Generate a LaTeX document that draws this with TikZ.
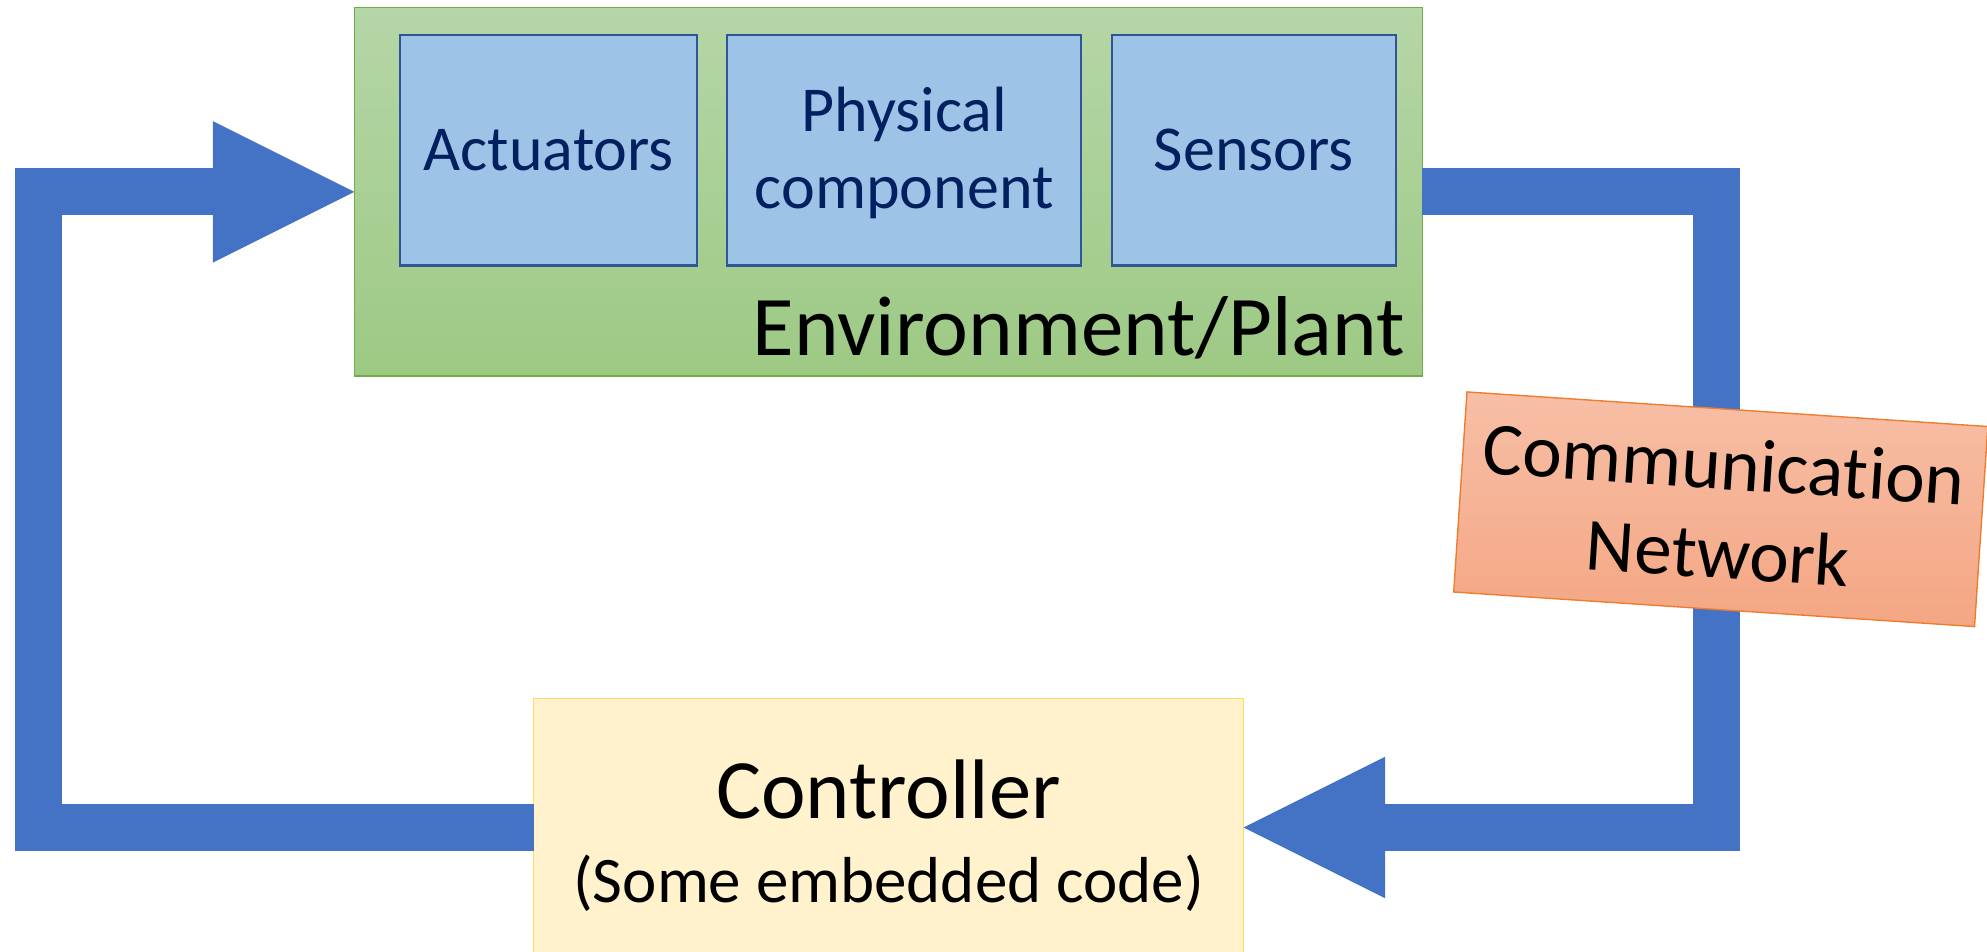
\documentclass[tikz,border=0pt]{standalone}
\usepackage{fontspec}
\setmainfont{Carlito}[Ligatures=NoCommon]
\usetikzlibrary{arrows.meta}

\definecolor{flowblue}{HTML}{4472C4}
\definecolor{plantTop}{HTML}{B5D6A7}
\definecolor{plantBot}{HTML}{9DC984}
\definecolor{plantLine}{HTML}{70AD47}
\definecolor{partFill}{HTML}{9DC3E6}
\definecolor{partLine}{HTML}{2F5597}
\definecolor{partText}{HTML}{002060}
\definecolor{ctrlFill}{HTML}{FFF2CC}
\definecolor{ctrlLine}{HTML}{FFD966}
\definecolor{netTop}{HTML}{F7BFA6}
\definecolor{netBot}{HTML}{F4A683}
\definecolor{netLine}{HTML}{ED7D31}

\begin{document}
\begin{tikzpicture}[x=1pt,y=-1pt,
  every node/.style={outer sep=0pt, inner sep=0pt},
  plantbox/.style={draw=plantLine, line width=1.3pt, top color=plantTop, bottom color=plantBot,
    minimum width=1068pt, minimum height=368.3pt},
  partbox/.style={draw=partLine, line width=2.2pt, fill=partFill, minimum height=230.5pt},
  ctrlbox/.style={draw=ctrlLine, line width=1pt, fill=ctrlFill, minimum width=710pt, minimum height=258.6pt},
  netbox/.style={draw=netLine, line width=1.4pt, top color=netTop, bottom color=netBot,
    minimum width=522pt, minimum height=200.5pt},
  parttext/.style={anchor=base, text=partText, font=\fontsize{64pt}{76pt}\selectfont},
  flow/.style={draw=flowblue, line width=47pt, line join=miter,
    -{Triangle[length=141.5pt,width=141.5pt,line width=0pt]}}
]
\useasboundingbox (0,0) rectangle (1987,952);

% plant with its three parts
\node[plantbox] (env) at (888.3,191.85) {};
\node[partbox, minimum width=297pt] (act) at (548.8,150.25) {};
\node[partbox, minimum width=353.7pt] (phys) at (904.2,150.25) {};
\node[partbox, minimum width=284.3pt] (sens) at (1253.85,150.25) {};
\node[parttext] (acttxt) at (548.8,170.5) {Actuators};
\node[parttext] (phystxt1) at (904.2,131.7) {Physical};
\node[parttext] (phystxt2) at (904.2,208.3) {component};
\node[parttext] (senstxt) at (1253.85,170.5) {Sensors};
\node[anchor=base east, font=\fontsize{85pt}{100pt}\selectfont] (envtxt) at (1405,355.5) {Environment/Plant};

% controller
\node[ctrlbox] (ctrl) at (888.5,827.5) {};
\node[anchor=base, font=\fontsize{84.5pt}{100pt}\selectfont] (ctrltxt1) at (888.5,818.3) {Controller};
\node[anchor=base, font=\fontsize{65pt}{80pt}\selectfont] (ctrltxt2) at (888.5,902) {(Some embedded code)};

% feedback loop
\coordinate (lc) at (38,0);
\coordinate (rc) at (1716,0);
\draw[flow] (ctrl.west) -- (ctrl.west -| lc) -- (env.west -| lc) -- (env.west);
\draw[flow] (env.east) -- (env.east -| rc) -- (ctrl.east -| rc) -- (ctrl.east);

% network on the sensor path
\node[netbox, rotate=-3.8] (net) at (1720.75,509.25) {};
\node[anchor=base, rotate=-3.8, font=\fontsize{75pt}{90pt}\selectfont] (nettxt1) at (1722.1,489.3) {Communication};
\node[anchor=base, rotate=-3.8, font=\fontsize{75pt}{90pt}\selectfont] (nettxt2) at (1716.2,578.1) {Network};
\end{tikzpicture}
\end{document}
